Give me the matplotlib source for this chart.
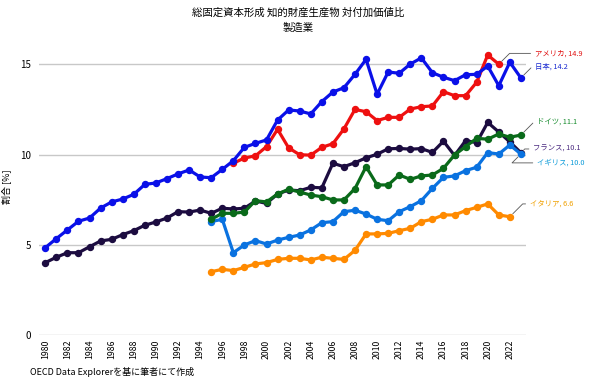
import matplotlib
matplotlib.use("Agg")
import matplotlib.pyplot as plt

plt.rcParams['font.family'] = ['Noto Sans CJK JP', 'DejaVu Sans']

years_full = list(range(1980, 2024))
years_95 = list(range(1995, 2024))

japan = [4.85, 5.35, 5.83, 6.31, 6.49, 7.04, 7.38, 7.54, 7.80, 8.35, 8.43, 8.67, 8.93, 9.15, 8.76,
         8.72, 9.18, 9.66, 10.40, 10.62, 10.81, 11.91, 12.47, 12.41, 12.25, 12.93, 13.46, 13.70,
         14.44, 15.27, 13.34, 14.57, 14.50, 15.01, 15.35, 14.53, 14.28, 14.09, 14.42, 14.44,
         14.90, 13.81, 15.11, 14.24]
france = [4.02, 4.32, 4.57, 4.57, 4.90, 5.22, 5.31, 5.57, 5.79, 6.09, 6.27, 6.49, 6.84, 6.82, 6.93,
          6.75, 7.03, 6.99, 7.03, 7.43, 7.30, 7.82, 8.04, 8.00, 8.19, 8.16, 9.52, 9.33, 9.55,
          9.82, 10.02, 10.32, 10.34, 10.30, 10.33, 10.12, 10.74, 9.95, 10.77, 10.66, 11.78,
          11.25, 10.70, 10.10]
usa_years = list(range(1997, 2022))
usa = [9.52, 9.81, 9.93, 10.44, 11.40, 10.37, 9.99, 9.97, 10.40, 10.60, 11.42, 12.50, 12.37,
       11.88, 12.06, 12.06, 12.52, 12.65, 12.69, 13.48, 13.26, 13.26, 14.00, 15.51, 15.00]
germany = [6.42, 6.75, 6.75, 6.82, 7.45, 7.38, 7.82, 8.08, 7.93, 7.76, 7.67, 7.49, 7.49, 8.12,
           9.33, 8.32, 8.32, 8.87, 8.63, 8.82, 8.87, 9.24, 9.98, 10.44, 10.90, 10.85, 11.14,
           10.96, 11.08]
uk = [6.29, 6.42, 4.57, 5.00, 5.24, 5.05, 5.27, 5.42, 5.55, 5.83, 6.23, 6.29, 6.84, 6.92, 6.71,
      6.42, 6.34, 6.84, 7.12, 7.45, 8.13, 8.74, 8.82, 9.11, 9.30, 10.11, 10.03, 10.53, 10.03]
italy_years = list(range(1995, 2023))
italy = [3.52, 3.65, 3.58, 3.76, 3.95, 4.02, 4.20, 4.26, 4.26, 4.17, 4.32, 4.26, 4.20, 4.70,
         5.61, 5.61, 5.64, 5.79, 5.92, 6.29, 6.42, 6.66, 6.66, 6.90, 7.08, 7.27, 6.66, 6.56]

series = [
    ("フランス", years_full, france, '#1c0c40', '#4b2a80', 10.1),
    ("イタリア", italy_years, italy, '#ff8a00', '#f0a000', 6.6),
    ("イギリス", years_95, uk, '#0a72e0', '#0a9ad8', 10.0),
    ("ドイツ", years_95, germany, '#0a6a1a', '#138a2a', 11.1),
    ("アメリカ", usa_years, usa, '#ee1010', '#e01010', 14.9),
    ("日本", years_full, japan, '#0a10e8', '#1a2ad0', 14.2),
]
label_pos = {"アメリカ": (2024.25, 15.6), "日本": (2024.25, 14.88), "ドイツ": (2024.45, 11.77),
             "フランス": (2024.1, 10.31), "イギリス": (2024.45, 9.54), "イタリア": (2023.8, 7.27)}

fig = plt.figure(figsize=(5.9, 3.85), dpi=100)
ax = fig.add_axes([0.0661, 0.1291, 0.8254, 0.7745])

for name, xs, ys, c, tc, last in series:
    ax.plot(xs, ys, color=c, lw=2.3, marker='o', ms=4.3, zorder=3, solid_joinstyle='round')
    lx, ly = label_pos[name]
    ax.annotate(f"{name}, {last}", xy=(xs[-1], ys[-1]), xytext=(lx, ly),
                color=tc, fontsize=5.3, va='center', ha='left', annotation_clip=False,
                arrowprops=dict(arrowstyle='-', color='#555555', lw=0.6,
                                shrinkA=1, shrinkB=3, connectionstyle='angle,angleA=0,angleB=45,rad=0'))

ax.set_xlim(1979.43, 2023.46)
ax.set_ylim(0, 16.5)
ax.set_yticks([0, 5, 10, 15])
ax.set_xticks(list(range(1980, 2023, 2)))
ax.tick_params(axis='x', labelrotation=90, labelsize=6.3, length=0, pad=3)
ax.tick_params(axis='y', labelsize=7, length=0, pad=6)
ax.grid(axis='y', color='#c8c8c8', lw=1)
ax.set_axisbelow(True)
for s in ax.spines.values():
    s.set_visible(False)
ax.set_ylabel("割合 [%]", fontsize=6.5, labelpad=6)

fig.text(0.505, 0.968, "総固定資本形成 知的財産生産物 対付加価値比", ha='center', va='center', fontsize=7.5)
fig.text(0.505, 0.928, "製造業", ha='center', va='center', fontsize=7.5)
fig.text(0.05, 0.035, "OECD Data Explorerを基に筆者にて作成", ha='left', va='center', fontsize=6.5)

fig.savefig("out.png", dpi=100)
